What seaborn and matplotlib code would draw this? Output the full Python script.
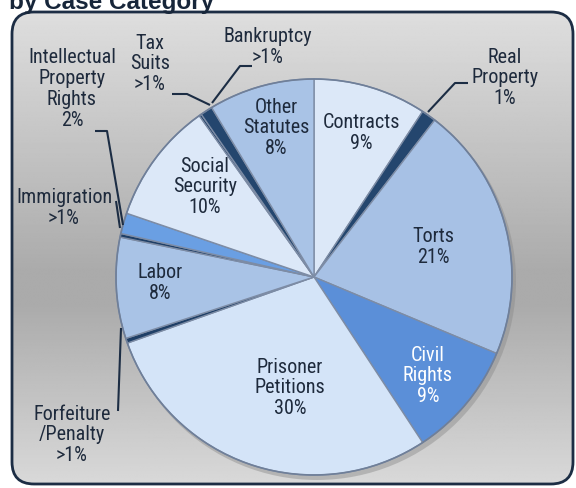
import numpy as np
import matplotlib
matplotlib.use("Agg")
import matplotlib.pyplot as plt
import matplotlib.font_manager as fm
from matplotlib.patches import FancyBboxPatch
import seaborn as sns

# ---------------- data ----------------
categories = ["Contracts", "Real Property", "Torts", "Civil Rights", "Prisoner Petitions",
              "Forfeiture/Penalty", "Labor", "Immigration", "Intellectual Property Rights",
              "Social Security", "Tax Suits", "Bankruptcy", "Other Statutes"]
values = [9.3, 1.2, 21.0, 9.5, 29.0, 0.4, 8.3, 0.3, 1.7, 10.0, 0.2, 1.0, 8.7]
pct_labels = ["9%", "1%", "21%", "9%", "30%", ">1%", "8%", ">1%", "2%", "10%", ">1%", ">1%", "8%"]
display_names = ["Contracts", "Real\nProperty", "Torts", "Civil\nRights", "Prisoner\nPetitions",
                 "Forfeiture\n/Penalty", "Labor", "Immigration", "Intellectual\nProperty\nRights",
                 "Social\nSecurity", "Tax\nSuits", "Bankruptcy", "Other\nStatutes"]
slice_colors = ["#dce8f8", "#24466e", "#a7c1e5", "#5b8fd8", "#d4e4f8", "#1f3f66", "#a9c3e6",
                "#1f3f66", "#6a9fe3", "#dce8f8", "#1f3f66", "#24466e", "#a9c3e6"]
title = "by Case Category"

# ---------------- style ----------------
sns.set_theme(style="white")
fonts = fm.fontManager.ttflist
names = {f.name for f in fonts}
STRETCH = "normal"
FAM, FS, LS = ["Liberation Sans", "DejaVu Sans"], 13.0, 1.33
for cand in ["Liberation Sans Narrow", "Arial Narrow", "Roboto Condensed", "Open Sans Condensed"]:
    if cand in names:
        FAM, FS, LS = [cand, "DejaVu Sans"], 14.5, 1.12
        break
else:
    if any(f.name == "DejaVu Sans" and f.stretch in ("condensed", "semi-condensed") and f.weight in (400, "normal")
           for f in fonts):
        FAM, FS, LS, STRETCH = ["DejaVu Sans"], 13.0, 1.2, "condensed"
plt.rcParams["font.family"] = FAM
TXT = "#1e2a3c"
NAVY = "#1c2d44"

W, H = 576, 489
fig = plt.figure(figsize=(W / 100, H / 100), dpi=100)
fig.patch.set_facecolor("white")
ax = fig.add_axes([0, 0, 1, 1])

def P(y):
    return H - y

# panel with gradient
x0, x1, yt, yb = 12, 573, 13, 485
panel = FancyBboxPatch((x0, P(yb)), x1 - x0, yb - yt,
                       boxstyle="round,pad=0,rounding_size=22",
                       facecolor="none", edgecolor=NAVY, lw=2.0, zorder=3)
ys = np.linspace(0, 1, 300)
stops_y = [0.0, 0.55, 0.62, 1.0]
stops_v = [0.87, 0.67, 0.67, 0.85]
col = np.interp(ys, stops_y, stops_v)
grad = np.repeat(col[:, None], 2, axis=1)
img = ax.imshow(grad, cmap="gray", vmin=0, vmax=1, extent=[x0, x1, P(yb), P(yt)],
                aspect="auto", zorder=0, interpolation="bilinear")
ax.add_patch(panel)
img.set_clip_path(panel)

# pie
cx, cy, R = 314, 278, 198
shadow = plt.Circle((cx + 3, P(cy) - 4), R + 1, color="#8a8a8a", alpha=0.45, zorder=1.5, lw=0)
ax.add_patch(shadow)
palette = sns.color_palette(slice_colors)
wedges, _ = ax.pie(values, colors=palette, startangle=90, counterclock=False,
                   center=(cx, P(cy)), radius=R, frame=True,
                   wedgeprops=dict(edgecolor="#7d8ca5", linewidth=1.0))
for w in wedges:
    w.set_zorder(2)
ring = plt.Circle((cx, P(cy)), R, fill=False, edgecolor="#6f7f99", lw=1.2, zorder=2.5)
ax.add_patch(ring)

# labels (position in pixels)
label_pos = {
    "Contracts": (361, 133, TXT),
    "Real Property": (505, 78, TXT),
    "Torts": (433, 247, TXT),
    "Civil Rights": (428, 376, "white"),
    "Prisoner Petitions": (290, 388, TXT),
    "Forfeiture/Penalty": (72, 435, TXT),
    "Labor": (160, 283, TXT),
    "Immigration": (64, 208, TXT),
    "Intellectual Property Rights": (72, 89, TXT),
    "Social Security": (205, 187, TXT),
    "Tax Suits": (150, 64, TXT),
    "Bankruptcy": (268, 47, TXT),
    "Other Statutes": (276, 128, TXT),
}
for cat, name, pct in zip(categories, display_names, pct_labels):
    x, y, c = label_pos[cat]
    ax.text(x, P(y), f"{name}\n{pct}", ha="center", va="center", fontsize=FS,
            color=c, linespacing=LS, fontstretch=STRETCH, zorder=5)

# leader lines
leaders = [
    [(468, 84), (455, 84), (428, 113)],      # Real Property
    [(252, 67), (240, 67), (212, 104)],      # Bankruptcy
    [(172, 95), (187, 95), (210, 106)],      # Tax Suits
    [(95, 132), (107, 132), (123, 226)],     # IP
    [(116, 202), (120, 229)],                # Immigration
    [(118, 412), (121, 329)],                # Forfeiture
]
for pts in leaders:
    xs = [p[0] for p in pts]
    yv = [P(p[1]) for p in pts]
    ax.plot(xs, yv, color=NAVY, lw=1.5, zorder=4, solid_capstyle="butt")

# title (partly cut off at the top, as in the reference)
ax.text(9, P(9), title, ha="left", va="baseline", fontsize=17.5, fontweight="bold",
        color="#17263a", family=["Liberation Sans", "DejaVu Sans"], zorder=5)

ax.set_xlim(0, W)
ax.set_ylim(0, H)
ax.set_aspect("auto")
ax.axis("off")
fig.savefig("out.png", dpi=100)
